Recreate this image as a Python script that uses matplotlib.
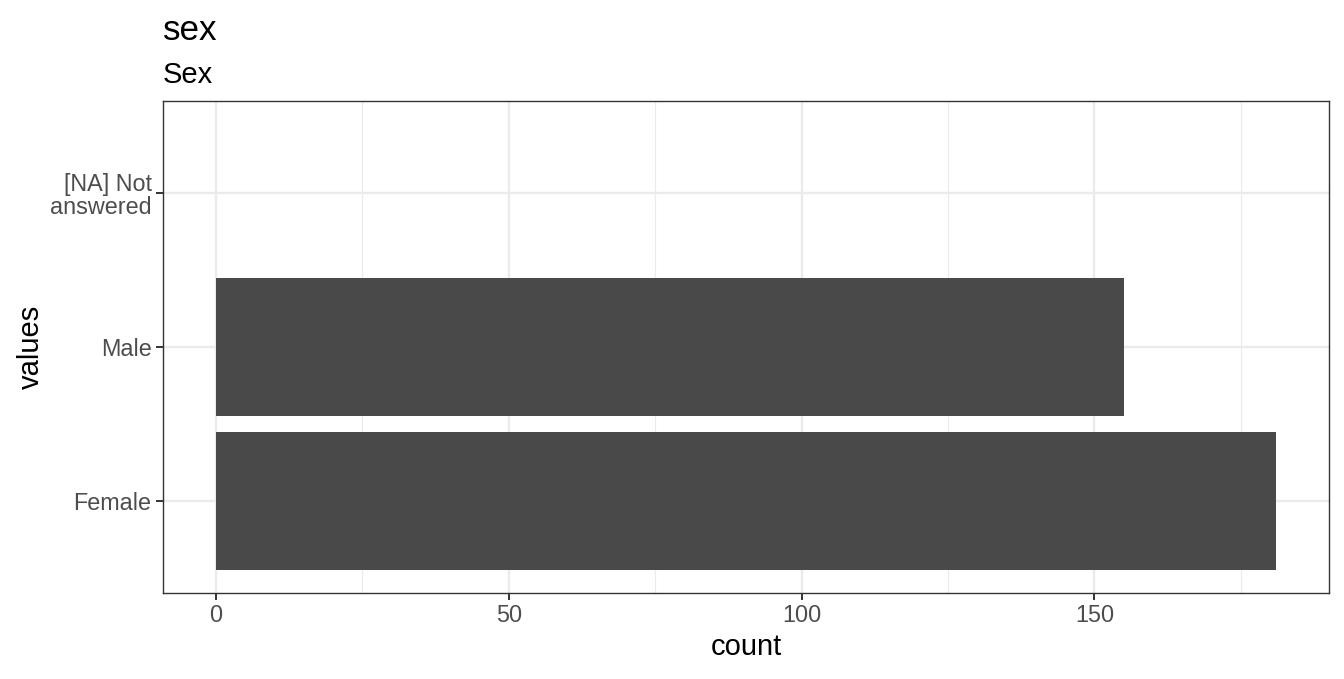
import matplotlib
matplotlib.use("Agg")
import matplotlib.pyplot as plt
from matplotlib.ticker import MultipleLocator

categories = ["Female", "Male", "[NA] Not\nanswered"]
counts = [181, 155, 0]
x_ticks = [0, 50, 100, 150]

plt.rcParams['font.family'] = ['Liberation Sans', 'DejaVu Sans']

fig = plt.figure(figsize=(13.44, 6.79), dpi=100)
ax = fig.add_axes([163 / 1344, 1 - 593 / 679, (1329 - 163) / 1344, (593 - 101) / 679])

ypos = list(range(len(categories)))
ax.barh(ypos, counts, height=0.9, color="#494949", zorder=2)

xmax = max(counts)
pad = xmax * 0.05
ax.set_xlim(-pad, xmax + pad)
ax.set_ylim(-0.6, len(categories) - 0.4)

ax.set_xticks(x_ticks)
ax.xaxis.set_minor_locator(MultipleLocator(25))
ax.set_yticks(ypos)
ax.set_yticklabels(categories, linespacing=1.0)

ax.grid(which="major", color="#EBEBEB", linewidth=1.7, zorder=0)
ax.grid(which="minor", axis="x", color="#EBEBEB", linewidth=0.85, zorder=0)
ax.set_axisbelow(True)

ax.tick_params(axis="both", which="major", labelsize=16.8, labelcolor="#4D4D4D",
               color="#333333", length=5.2, width=1.4, pad=3)
ax.tick_params(axis="x", which="minor", length=0)
for s in ax.spines.values():
    s.set_color("#333333")
    s.set_linewidth(1.0)

ax.set_xlabel("count", fontsize=21, labelpad=4)
ax.set_ylabel("values", fontsize=21, labelpad=4)

fig.text(163 / 1344, 1 - 40 / 679, "sex", fontsize=25.2, va="baseline", ha="left")
fig.text(163 / 1344, 1 - 83 / 679, "Sex", fontsize=21, va="baseline", ha="left")

fig.savefig("out.png", dpi=100)
